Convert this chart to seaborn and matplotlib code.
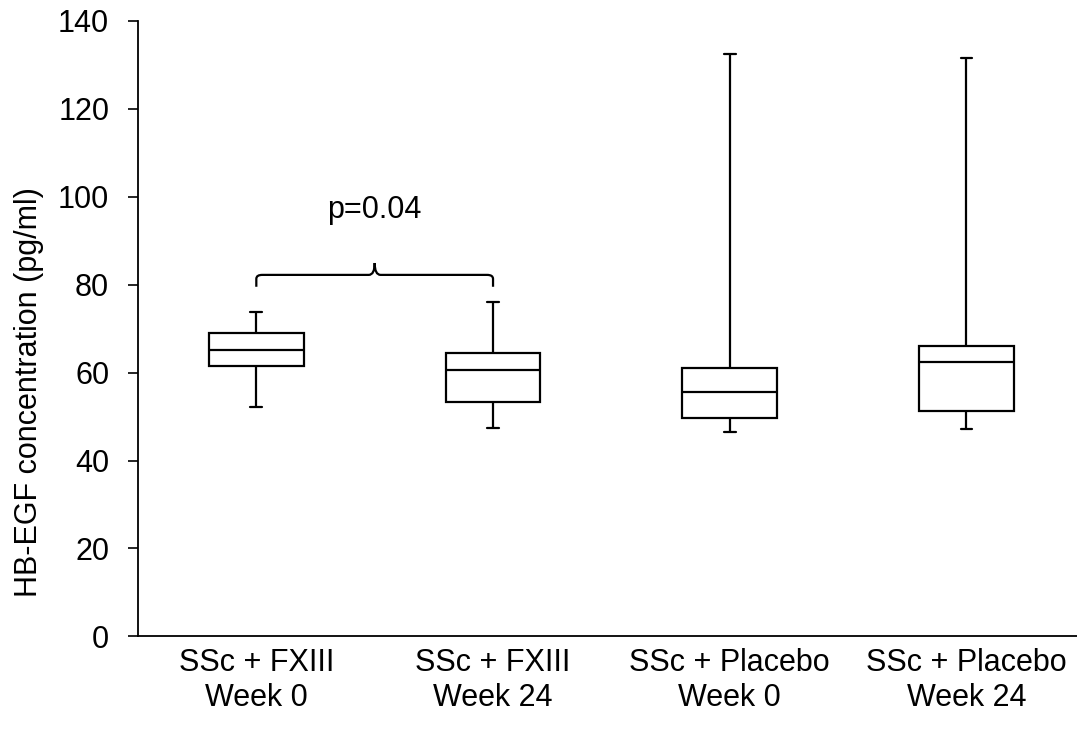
import matplotlib
matplotlib.use("Agg")
import matplotlib.pyplot as plt
from matplotlib.path import Path
from matplotlib.patches import PathPatch
import seaborn as sns
import pandas as pd

# Group labels (two-line category names)
groups = [
    "SSc + FXIII\nWeek 0",
    "SSc + FXIII\nWeek 24",
    "SSc + Placebo\nWeek 0",
    "SSc + Placebo\nWeek 24",
]

# Five-number summaries per group: min, Q1, median, Q3, max (pg/ml)
fxiii_wk0 = [52.2, 61.5, 65.1, 68.9, 73.8]
fxiii_wk24 = [47.5, 53.2, 60.6, 64.4, 76.0]
placebo_wk0 = [46.4, 49.7, 55.6, 61.0, 132.5]
placebo_wk24 = [47.2, 51.25, 62.3, 66.0, 131.5]

y_ticks = [0, 20, 40, 60, 80, 100, 120, 140]
p_label = "p=0.04"

rows = []
for g, vals in zip(groups, [fxiii_wk0, fxiii_wk24, placebo_wk0, placebo_wk24]):
    for v in vals:
        rows.append({"group": g, "value": v})
df = pd.DataFrame(rows)

sns.set_style("white")
plt.rcParams["font.family"] = ["Liberation Sans", "DejaVu Sans"]
for key in ["text.color", "axes.labelcolor", "xtick.color", "ytick.color"]:
    plt.rcParams[key] = "black"

FS = 22

fig = plt.figure(figsize=(10.77, 7.32), dpi=100)
ax = fig.add_axes([0.1281, 0.1305, 0.8719, 0.8413])

sns.boxplot(
    data=df, x="group", y="value", order=groups, ax=ax,
    color="white", linecolor="black", linewidth=1.6,
    width=0.40, whis=(0, 100), showfliers=False,
    saturation=1, capwidths=0.05,
)

ax.set_ylim(0, 140)
ax.set_xlim(-0.5, 3.467)
ax.set_yticks(y_ticks)
ax.set_xlabel("")
ax.set_ylabel("HB-EGF concentration (pg/ml)", fontsize=FS)
ax.yaxis.set_label_coords(-0.100, 0.397)
ax.tick_params(axis="y", labelsize=FS, length=7.2, width=1.2, color="black",
               direction="out", left=True, pad=13.5)
ax.tick_params(axis="x", labelsize=FS, length=0, pad=8)
for lbl in ax.get_xticklabels():
    lbl.set_linespacing(1.25)

for side in ["top", "right"]:
    ax.spines[side].set_visible(False)
for side in ["left", "bottom"]:
    ax.spines[side].set_color("black")
    ax.spines[side].set_linewidth(1.3)

# Curly bracket linking the two FXIII time points
x0, x1, xm = 0.0, 1.0, 0.5
yb, ye, yc = 82.2, 79.5, 84.9
dx, dy = 0.025, 0.9
verts = [
    (x0, ye), (x0, yb - dy),
    (x0, yb), (x0 + dx, yb),
    (xm - dx, yb),
    (xm, yb), (xm, yc),
    (xm, yb), (xm + dx, yb),
    (x1 - dx, yb),
    (x1, yb), (x1, yb - dy),
    (x1, ye),
]
codes = [
    Path.MOVETO, Path.LINETO,
    Path.CURVE3, Path.CURVE3,
    Path.LINETO,
    Path.CURVE3, Path.CURVE3,
    Path.CURVE3, Path.CURVE3,
    Path.LINETO,
    Path.CURVE3, Path.CURVE3,
    Path.LINETO,
]
ax.add_patch(PathPatch(Path(verts, codes), fill=False, edgecolor="black",
                       linewidth=1.6, clip_on=False))
ax.text(xm, 97.0, p_label, ha="center", va="center", fontsize=FS)

fig.savefig("out.png", dpi=100)
